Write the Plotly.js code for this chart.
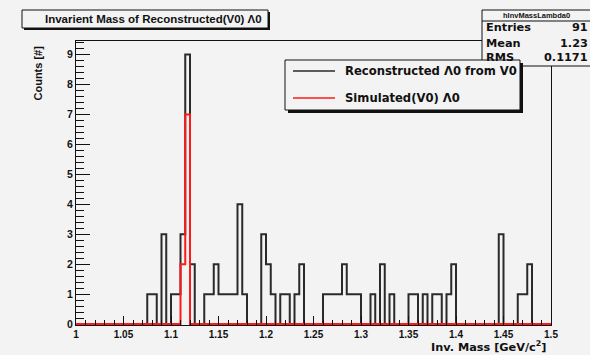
<!DOCTYPE html>
<html><head><meta charset="utf-8">
<script src="https://cdn.plot.ly/plotly-3.0.1.min.js"></script>
<style>html,body{margin:0;padding:0;background:#ffffff}</style>
</head><body><div id="chart" style="width:590px;height:355px"></div>
<script>
// ---- data ----
const binLow = 1.0;
const binWidth = 0.005;
const recoCounts = [
  0,0,0,0,0,0,0,0,0,0,
  0,0,0,0,0,1,1,0,3,0,
  1,1,3,9,2,0,0,1,1,2,
  1,1,1,1,4,1,0,0,0,3,
  2,1,0,1,1,0,1,2,0,0,
  0,0,1,1,1,1,2,1,1,1,
  0,0,1,0,2,0,1,0,0,0,
  1,1,0,1,0,1,1,0,1,2,
  0,0,0,0,0,0,0,0,0,3,
  0,0,0,1,1,2,0,0,0,0
];
const simCounts = [
  0,0,0,0,0,0,0,0,0,0,
  0,0,0,0,0,0,0,0,0,0,
  0,0,2,7,0,0,0,0,0,0,
  0,0,0,0,0,0,0,0,0,0,
  0,0,0,0,0,0,0,0,0,0,
  0,0,0,0,0,0,0,0,0,0,
  0,0,0,0,0,0,0,0,0,0,
  0,0,0,0,0,0,0,0,0,0,
  0,0,0,0,0,0,0,0,0,0,
  0,0,0,0,0,0,0,0,0,0
];
const xTickVals = [1,1.05,1.1,1.15,1.2,1.25,1.3,1.35,1.4,1.45,1.5];
const xTickText = ['1','1.05','1.1','1.15','1.2','1.25','1.3','1.35','1.4','1.45','1.5'];
const yTickVals = [0,1,2,3,4,5,6,7,8,9];
const yTickText = ['0','1','2','3','4','5','6','7','8','9'];
const seriesNames = ['Reconstructed \u039B0 from V0','Simulated(V0) \u039B0'];
const histName = 'hInvMassLambda0';
const statsNames = ['Entries','Mean','RMS'];
const statsValues = ['91','1.23','0.1171'];
const titleText = 'Invarient Mass of Reconstructed(V0) \u039B0';
const xTitle = 'Inv. Mass [GeV/c<sup>2</sup>]';
const yTitle = 'Counts [#]';

// ---- helpers ----
function stepXY(counts){
  const x = [], y = [];
  for (let i = 0; i < counts.length; i++){ x.push(binLow + i*binWidth); y.push(counts[i]); }
  x.push(binLow + counts.length*binWidth); y.push(counts[counts.length-1]);
  return {x, y};
}
const W = 590, H = 355;
const L = 76, R = 551, T = 41, B = 325;
const px = p => (p - L)/(R - L);
const py = p => (B - p)/(B - T);

const BG = '#f3f3f3';
const wideFont = 'DejaVu Sans';
const armFont = 'Liberation Sans';

const reco = stepXY(recoCounts);
const sim = stepXY(simCounts);

const traces = [
  {type:'scatter', mode:'lines', x: reco.x, y: reco.y, name: seriesNames[0],
   line:{shape:'hv', color:'#2a2a2a', width:2}, showlegend:false, hoverinfo:'skip'},
  {type:'scatter', mode:'lines', x: sim.x, y: sim.y, name: seriesNames[1],
   line:{shape:'hv', color:'#ff1a1a', width:2}, showlegend:false, hoverinfo:'skip'}
];

const shapes = [];
const annotations = [];
function box(x0,y0,x1,y1,shadow){
  if (shadow){
    shapes.push({type:'rect', xref:'paper', yref:'paper', x0:px(x0+shadow), x1:px(x1+shadow), y0:py(y1+shadow), y1:py(y0+shadow),
      line:{width:0}, fillcolor:'#111', layer:'above'});
  }
  shapes.push({type:'rect', xref:'paper', yref:'paper', x0:px(x0), x1:px(x1), y0:py(y1), y1:py(y0),
    line:{width:1, color:'#111'}, fillcolor:BG, layer:'above'});
}
// title box
box(22,10,268,28,2);
annotations.push({xref:'paper', yref:'paper', x:px(153), y:py(19.5), xanchor:'center', yanchor:'middle',
  text:'<b>'+titleText+'</b>', showarrow:false, font:{family:armFont, size:11.5, color:'#111'}});
// stats box
box(482,10,600,66,0);
shapes.push({type:'line', xref:'paper', yref:'paper', x0:px(482), x1:px(600), y0:py(21), y1:py(21), line:{width:1,color:'#111'}, layer:'above'});
annotations.push({xref:'paper', yref:'paper', x:px(536), y:py(15.5), xanchor:'center', yanchor:'middle',
  text:'<b>'+histName+'</b>', showarrow:false, font:{family:armFont, size:7.5, color:'#111'}});
const rowY = [28, 43, 57];
for (let i=0;i<statsNames.length;i++){
  annotations.push({xref:'paper', yref:'paper', x:px(484), y:py(rowY[i]), xanchor:'left', yanchor:'middle',
    text:'<b>'+statsNames[i]+'</b>', showarrow:false, font:{family:wideFont, size:11.3, color:'#111'}});
  annotations.push({xref:'paper', yref:'paper', x:px(590), y:py(rowY[i]), xanchor:'right', yanchor:'middle',
    text:'<b>'+statsValues[i]+'</b>', showarrow:false, font:{family:wideFont, size:11.3, color:'#111'}});
}
// legend box
box(285,60,520,110,3);
const legColors = ['#2a2a2a','#ff1a1a'];
const legY = [71, 98];
for (let i=0;i<2;i++){
  shapes.push({type:'line', xref:'paper', yref:'paper', x0:px(293), x1:px(335), y0:py(legY[i]), y1:py(legY[i]),
    line:{width:1.5, color:legColors[i]}, layer:'above'});
  annotations.push({xref:'paper', yref:'paper', x:px(343), y:py(legY[i]), xanchor:'left', yanchor:'middle',
    text:'<b>'+seriesNames[i]+'</b>', showarrow:false, font:{family:wideFont, size:11.6, color:'#111'}});
}
// axis titles
annotations.push({xref:'paper', yref:'paper', x:px(549), y:py(347), xanchor:'right', yanchor:'middle',
  text:'<b>'+xTitle+'</b>', showarrow:false, font:{family:wideFont, size:11.3, color:'#111'}});
annotations.push({xref:'paper', yref:'paper', x:px(37), y:py(44), xanchor:'center', yanchor:'top', textangle:-90,
  text:'<b>'+yTitle+'</b>', showarrow:false, font:{family:armFont, size:11, color:'#111'}});

const layout = {
  width: W, height: H,
  margin:{l:L, r:W-R, t:T, b:H-B, pad:0},
  paper_bgcolor: BG, plot_bgcolor: BG,
  showlegend:false,
  xaxis:{range:[binLow, binLow+recoCounts.length*binWidth], showline:true, mirror:true, linecolor:'#111', linewidth:1,
    ticks:'inside', ticklen:9, tickwidth:1, tickcolor:'#111', tickvals:xTickVals, ticktext:xTickText,
    minor:{ticks:'inside', dtick:0.01, ticklen:5, tickcolor:'#111', tickwidth:1},
    tickfont:{family:armFont, size:10, color:'#111', weight:'bold'}, showgrid:false, zeroline:false, fixedrange:true},
  yaxis:{range:[-0.03, 9.45], showline:true, mirror:true, linecolor:'#111', linewidth:1,
    ticks:'inside', ticklen:14, tickwidth:1, tickcolor:'#111', tickvals:yTickVals, ticktext:yTickText,
    minor:{ticks:'inside', dtick:0.2, ticklen:8, tickcolor:'#111', tickwidth:1},
    tickfont:{family:armFont, size:10.5, color:'#111', weight:'bold'}, showgrid:false, zeroline:false, fixedrange:true},
  shapes: shapes,
  annotations: annotations
};
Plotly.newPlot('chart', traces, layout, {staticPlot:true, displayModeBar:false});
</script></body></html>
